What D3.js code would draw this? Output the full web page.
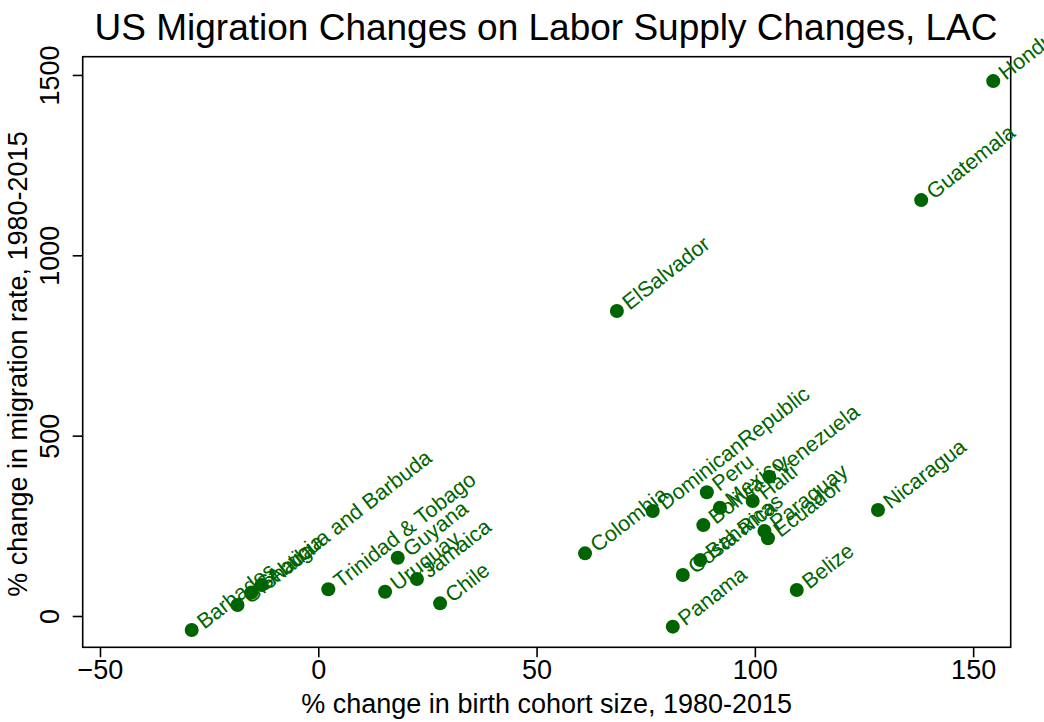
<!DOCTYPE html>
<html>
<head>
<meta charset="utf-8">
<script src="https://cdn.jsdelivr.net/npm/d3@7"></script>
<style>
  body { margin: 0; background: #fff; }
  text { font-family: "Liberation Sans", Arial, sans-serif; }
</style>
</head>
<body>
<svg id="viz" width="1044" height="722"></svg>
<script>
// countries and their values
var countries = ["Honduras", "Guatemala", "ElSalvador", "Colombia", "DominicanRepublic",
  "Peru", "Mexico", "Haiti", "Venezuela", "Bolivia", "Paraguay", "Ecuador", "Bahamas",
  "Costa Rica", "Panama", "Belize", "Nicaragua", "Barbados", "Grenada", "St Lucia",
  "Antigua and Barbuda", "Trinidad & Tobago", "Guyana", "Uruguay", "Jamaica", "Chile"];
var birthChange = [154.6, 138.1, 68.4, 61.1, 76.6, 89.0, 92.0, 99.5, 103.3, 88.2, 102.2, 103.0,
  87.5, 83.5, 81.2, 109.6, 128.2, -29.0, -18.5, -15.3, -13.0, 2.3, 18.2, 15.3, 22.6, 27.9];
var migChange = [1483, 1153, 845.6, 173.7, 291, 343, 300, 318.8, 386, 252, 235.6, 215.4,
  155.3, 113.7, -29.6, 72, 293.9, -38.8, 30.5, 65, 86, 74, 161.6, 67.4, 102.6, 35];
var xTicks = [-50, 0, 50, 100, 150];
var yTicks = [0, 500, 1000, 1500];

var green = "#006400";
var box = {left: 82.7, right: 1010.7, top: 56.7, bottom: 647.3};

function main(){
  var svg = d3.select("#viz");

  var xScale = d3.scaleLinear()
                 .domain([-53.96, 158.6])
                 .range([box.left, box.right]);
  var yScale = d3.scaleLinear()
                 .domain([-86.8, 1550.6])
                 .range([box.bottom, box.top]);

  // frame
  svg.append("rect")
    .attr("x", box.left).attr("y", box.top)
    .attr("width", box.right - box.left)
    .attr("height", box.bottom - box.top)
    .attr("fill", "none")
    .attr("stroke", "#000")
    .attr("stroke-width", 1.6);

  var xAxis = svg.append("g")
    .attr("transform", "translate(0," + box.bottom + ")")
    .call(d3.axisBottom(xScale).tickValues(xTicks).tickFormat(d3.format("d"))
      .tickSize(10).tickPadding(3).tickSizeOuter(0));
  xAxis.select(".domain").remove();
  xAxis.selectAll("line").attr("stroke-width", 1.6);
  xAxis.selectAll("text").attr("font-size", 27).attr("fill", "#000")
    .attr("font-family", "Liberation Sans, Arial, sans-serif");

  var yAxis = svg.append("g")
    .attr("transform", "translate(" + box.left + ",0)")
    .call(d3.axisLeft(yScale).tickValues(yTicks).tickFormat(d3.format("d"))
      .tickSize(10).tickPadding(0).tickSizeOuter(0));
  yAxis.select(".domain").remove();
  yAxis.selectAll("line").attr("stroke-width", 1.6);
  yAxis.selectAll("text")
    .attr("font-size", 27).attr("fill", "#000")
    .attr("font-family", "Liberation Sans, Arial, sans-serif")
    .attr("text-anchor", "middle")
    .attr("x", 0).attr("dy", 0)
    .attr("transform", "translate(-24,0) rotate(-90)");

  // title and axis titles
  svg.append("text")
    .attr("x", 546).attr("y", 40)
    .attr("text-anchor", "middle")
    .attr("font-size", 37)
    .text("US Migration Changes on Labor Supply Changes, LAC");
  svg.append("text")
    .attr("x", (box.left + box.right) / 2).attr("y", 713)
    .attr("text-anchor", "middle")
    .attr("font-size", 27)
    .text("% change in birth cohort size, 1980-2015");
  svg.append("text")
    .attr("transform", "translate(27,364) rotate(-90)")
    .attr("text-anchor", "middle")
    .attr("font-size", 27)
    .text("% change in migration rate, 1980-2015");

  // points with their labels
  var pts = countries.map(function(c, i){
    return {name: c, x: birthChange[i], y: migChange[i]};
  });
  var g = svg.append("g");
  pts.forEach(function(d){
    g.append("circle")
      .attr("cx", xScale(d.x))
      .attr("cy", yScale(d.y))
      .attr("r", 7)
      .attr("fill", green);
  });
  pts.forEach(function(d){
    g.append("text")
      .attr("transform", "translate(" + xScale(d.x) + "," + yScale(d.y) + ") rotate(-38)")
      .attr("x", 10)
      .attr("dy", "0.35em")
      .attr("font-size", 21.5)
      .attr("fill", green)
      .text(d.name);
  });
}

main();
</script>
</body>
</html>
